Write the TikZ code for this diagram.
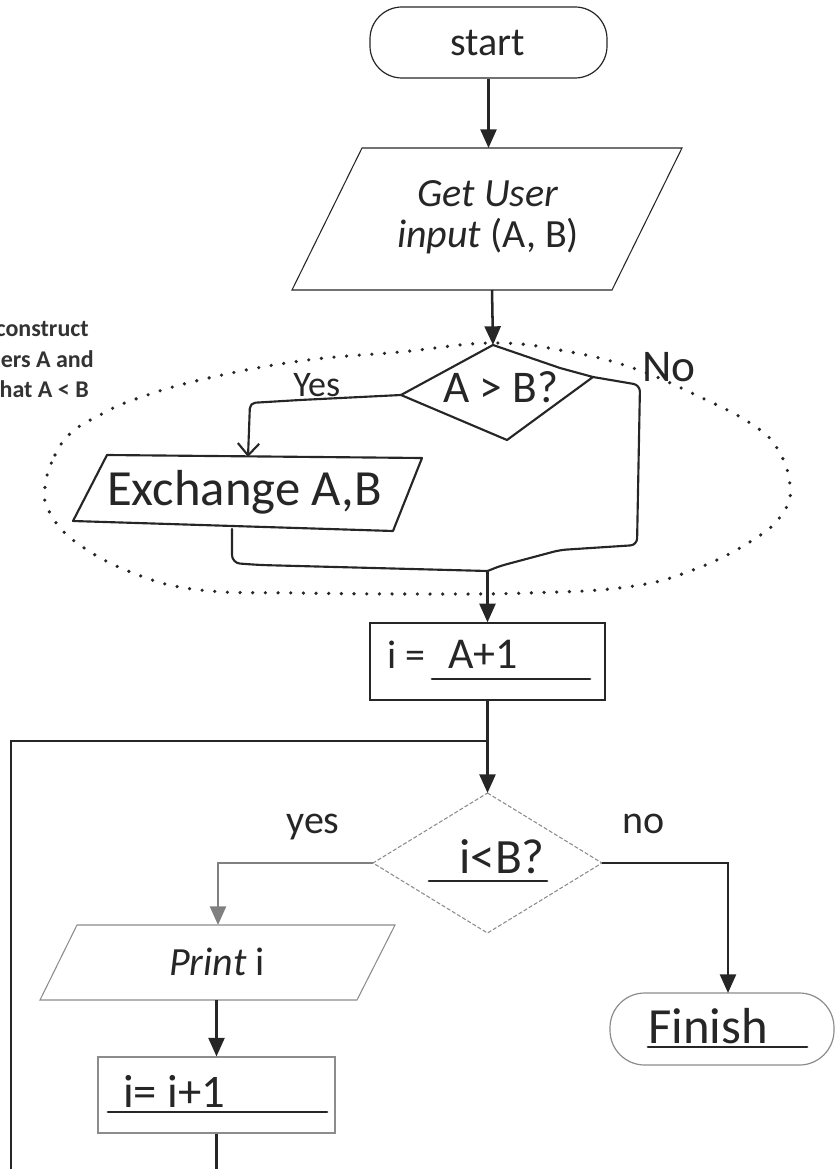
\documentclass[tikz,border=0pt]{standalone}
\usepackage{fontspec}
\setmainfont{Carlito}
\usetikzlibrary{arrows.meta,fit}
\definecolor{ink}{HTML}{262626}
\definecolor{grayline}{HTML}{8C8C8C}
\definecolor{grayarrow}{HTML}{808080}
\definecolor{sidegray}{HTML}{333333}
\begin{document}
\begin{tikzpicture}[x=0.75pt,y=-0.75pt,
  conn/.style={line width=1.9pt, draw=ink},
  arr/.style={conn,-{Triangle[length=14pt,width=12pt]}},
  handline/.style={line width=1.6pt, draw=ink, line join=round, line cap=round},
  thinbox/.style={draw=ink, line width=0.8pt},
  graybox/.style={draw=grayline, line width=0.8pt},
  txt/.style={inner sep=0pt, text=ink, font=\fontsize{30}{36}\selectfont},
  htxt/.style={inner sep=0pt, text=ink},
  ul/.style={line width=2.2pt, draw=ink, line cap=round},
  dotring/.style={draw=ink, line width=2.7pt, line cap=round, dash pattern=on 0pt off 9.5pt},
  sidetxt/.style={inner sep=0pt, text=sidegray, font=\fontsize{18}{22}\selectfont\bfseries},
]
\path[use as bounding box] (0,0) rectangle (836,1169);

% ---- side note (clipped at left edge)
\node[sidetxt, anchor=base east] (side1) at (89,336) {construct};
\node[sidetxt, anchor=base east] (side2) at (94,367) {ers A and};
\node[sidetxt, anchor=base east] (side3) at (89,397) {hat A < B};

% ---- start
\node[fit={(370,7) (607,78)}, inner sep=0pt, draw=ink, line width=0.9pt, rounded corners=24pt] (start) {};
\node[txt] (starttext) at (488,43) {start};

% ---- input parallelogram
\coordinate (in-tl) at (362,148);
\coordinate (in-tr) at (682,148);
\coordinate (in-br) at (612,290);
\coordinate (in-bl) at (292,290);
\coordinate (in-top) at (488.5,148);
\coordinate (in-bot) at (492,290);
\draw[thinbox] (in-tl) -- (in-tr) -- (in-br) -- (in-bl) -- cycle;
\node[txt, anchor=base] (in1) at (488,207) {\itshape Get User};
\node[txt, anchor=base] (in2) at (488,248) {\textit{input} (A, B)};
\draw[arr] (start.south) -- (in-top);

% ---- dotted loop round the exchange construct
\draw[dotring] plot[smooth cycle, tension=0.7] coordinates {
  (45,487) (55,455) (72,432) (100,415) (133,400) (200,380) (300,361) (400,352)
  (493,343) (565,351) (633,368) (700,397) (750,423) (777,448) (790,485)
  (783,513) (753,540) (693,570) (627,587) (527,593) (420,594) (300,593)
  (200,590) (133,573) (77,543) (50,513)};

% ---- A > B? diamond
\coordinate (ab-t) at (493,345);
\coordinate (ab-r) at (593,377);
\coordinate (ab-b) at (507,440);
\coordinate (ab-l) at (401,395);
\draw[arr] (in-bot) -- (ab-t);
\draw[handline] (ab-t) -- (560,368) -- (ab-r) -- (ab-b) -- (ab-l) -- cycle;
\node[htxt, anchor=base west, font=\fontsize{34}{40}\selectfont] (abtext) at (443,402) {A > B?};

% ---- Exchange
\coordinate (ex-tl) at (107,455);
\coordinate (ex-tr) at (422,458);
\coordinate (ex-br) at (393,531);
\coordinate (ex-bl) at (73,521);
\coordinate (ex-top) at (248,457);
\coordinate (ex-bot) at (232,529);
\draw[handline] (ex-tl) -- (ex-tr) -- (ex-br) -- (ex-bl) -- cycle;
\node[htxt, anchor=base west, font=\fontsize{38}{44}\selectfont] (extext) at (107,505) {Exchange A,B};

% Yes branch
\draw[handline, rounded corners=4pt, -{Straight Barb[length=9pt,width=16pt]}]
  (ab-l) -- (300,400) -- (250,403) -- (ex-top);
\node[htxt, anchor=base west, font=\fontsize{27}{32}\selectfont] (yesab) at (293,396) {Yes};

% No branch and merge
\coordinate (m) at (487.5,571);
\draw[handline, rounded corners=5pt]
  (ab-r) -- (640,385) -- (637,545) -- (560,550) -- (500,566) -- (m);
\node[htxt, anchor=base west, font=\fontsize{34}{40}\selectfont] (noab) at (642,381) {No};
\draw[handline, rounded corners=6pt] (ex-bot) -- (232,563) -- (260,565) -- (m);

% ---- i = A+1 box
\node[fit={(370,623) (605,700)}, inner sep=0pt, draw=ink, line width=1pt] (ibox) {};
\draw[arr] (m) -- (ibox.north);
\node[txt, anchor=base west] (ieq) at (387,668) {i =};
\node[htxt, anchor=base west, font=\fontsize{33}{40}\selectfont] (aplus) at (448,668) {A+1};
\draw[ul] (432,679) -- (590,679);

% ---- loop
\coordinate (j) at (487.5,741);
\coordinate (lp) at (11,741);
\coordinate (lb) at (11,1169);
\coordinate (ib-t) at (487.5,793);
\draw[arr] (ibox.south) -- (ib-t);
\draw[conn] (j) -- (lp) -- (lb);

% ---- i < B? diamond
\coordinate (ib-l) at (373,863);
\coordinate (ib-r) at (602,863);
\coordinate (ib-b) at (487.5,933);
\draw[draw=grayline, line width=0.8pt, dash pattern=on 3pt off 1.5pt]
  (ib-t) -- (ib-r) -- (ib-b) -- (ib-l) -- cycle;
\node[htxt, anchor=base west, font=\fontsize{37}{44}\selectfont] (ibtext) at (459,873) {i<B?};
\draw[ul] (429,881) -- (547,881);
\node[txt, anchor=base] (yes) at (313,833) {yes};
\node[txt, anchor=base] (no) at (644,833) {no};

% ---- Print i
\coordinate (pr-tl) at (77,925);
\coordinate (pr-tr) at (395,925);
\coordinate (pr-br) at (357,1000);
\coordinate (pr-bl) at (40,1000);
\coordinate (pr-top) at (218,925);
\coordinate (pr-bot) at (216.5,1000);
\draw[graybox] (pr-tl) -- (pr-tr) -- (pr-br) -- (pr-bl) -- cycle;
\node[txt, anchor=base] (prtext) at (217,975) {\textit{Print} i};
\draw[arr, draw=grayarrow] (ib-l) -- (218,863) -- (pr-top);

% ---- i = i+1
\node[fit={(98,1057) (335,1133)}, inner sep=0pt, draw=grayline, line width=0.8pt] (incbox) {};
\draw[arr] (pr-bot) -- (incbox.north);
\node[htxt, anchor=base west, font=\fontsize{35}{42}\selectfont] (inctext) at (123,1107) {i= i+1};
\draw[ul] (108,1112) -- (327,1112);
\coordinate (ib-end) at (216.5,1169);
\draw[conn] (incbox.south) -- (ib-end);

% ---- Finish
\node[fit={(610,993) (834,1065)}, inner sep=0pt, draw=grayline, line width=0.9pt, rounded corners=26pt] (fin) {};
\coordinate (fin-top) at (728,993);
\draw[arr] (ib-r) -- (728,863) -- (fin-top);
\node[htxt, anchor=base west, font=\fontsize{38}{44}\selectfont] (fintext) at (648,1043) {Finish};
\draw[ul] (648,1047) -- (807,1047);
\end{tikzpicture}
\end{document}
